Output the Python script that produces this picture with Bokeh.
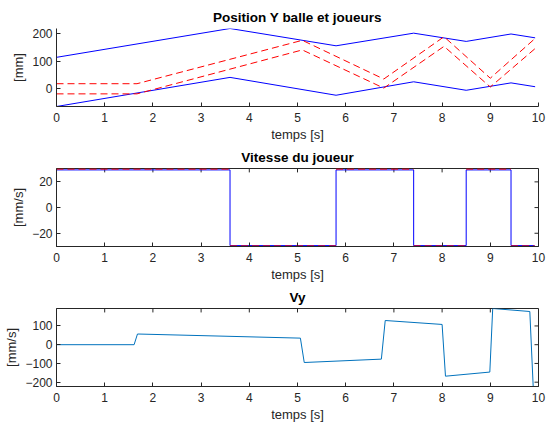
from bokeh.plotting import figure
from bokeh.layouts import column
from bokeh.models import Range1d, FixedTicker
from bokeh.embed import file_html
from bokeh.resources import INLINE

# ---- Data: Position Y balle et joueurs ----
t_joueur = [0, 3.6, 5.8, 7.41, 8.5, 9.43, 9.93]
joueur_haut = [114, 219, 156, 202, 172, 199, 185]
joueur_bas = [-65, 41, -24, 25, -6, 21, 7]
t_balle = [0, 1.67, 5.10, 6.79, 8.04, 9.0, 9.95]
balle_haut = [18, 18, 176, 35, 189, 38, 186]
balle_bas = [-19, -19, 141, 2, 154, 6, 149]

# ---- Data: Vitesse du joueur (step changes) ----
t_changements = [0, 3.6, 5.8, 7.41, 8.5, 9.43, 9.92]
vit_joueur = [29.3, -29.6, 29.3, -29.6, 29.3, -29.6]
vit_consigne = [30, -30, 30, -30, 30, -30]

# ---- Data: Vy ----
t_vy = [0, 1.61, 1.68, 5.06, 5.14, 6.74, 6.82, 8.0, 8.07, 8.99, 9.05, 9.82, 9.89]
vy = [0, 0, 57, 35, -95, -77, 129, 108, -168, -146, 193, 177, -223]

x_ticks = list(range(0, 11))
y_ticks_pos = [0, 100, 200]
y_ticks_vit = [-20, 0, 20]
y_ticks_vy = [-200, -100, 0, 100]

AX = "#262626"
FONT = "Liberation Sans"
FRAME_W = 482
TICK = 4


def steps(times, vals, start=None):
    xs, ys = [], []
    if start is not None:
        xs.append(times[0]); ys.append(start)
    for i, v in enumerate(vals):
        xs += [times[i], times[i + 1]]
        ys += [v, v]
    return xs, ys


def style_axis(ax, ticks):
    ax.ticker = FixedTicker(ticks=ticks)
    ax.axis_line_color = AX
    ax.major_tick_line_color = AX
    ax.major_tick_in = TICK
    ax.major_tick_out = 0
    ax.minor_tick_line_color = None
    ax.major_label_text_color = AX
    ax.major_label_text_font = FONT
    ax.major_label_text_font_size = "12px"
    ax.axis_label_text_font = FONT
    ax.axis_label_text_font_style = "normal"
    ax.axis_label_text_color = AX
    ax.axis_label_text_font_size = "13px"


def make_fig(title, ylabel, yr, yticks, top, frame_h, bottom, boxed):
    p = figure(width=548, height=top + frame_h + bottom,
               x_range=Range1d(0, 10), y_range=Range1d(*yr),
               output_backend="svg", toolbar_location=None,
               min_border_left=56, min_border_right=10,
               min_border_top=top, min_border_bottom=bottom, title=title)
    p.title.text_font = FONT
    p.title.text_font_size = "13.5px"
    p.title.text_font_style = "bold"
    p.title.text_color = "#000000"
    p.title.align = "center"
    p.title.standoff = 7
    p.xgrid.visible = False
    p.ygrid.visible = False
    p.background_fill_color = "white"
    p.border_fill_color = "white"
    style_axis(p.xaxis[0], x_ticks)
    style_axis(p.yaxis[0], yticks)
    p.xaxis[0].major_label_standoff = 6
    p.xaxis[0].axis_label_standoff = 2
    p.yaxis[0].major_label_standoff = 4
    p.yaxis[0].axis_label_standoff = 3
    p.xaxis[0].axis_label = "temps [s]"
    p.yaxis[0].axis_label = ylabel
    if boxed:
        p.outline_line_color = AX
        # pixel-based ranges for the inward ticks on the top and right edges
        p.extra_y_ranges = {"px_y": Range1d(0, frame_h)}
        p.extra_x_ranges = {"px_x": Range1d(0, FRAME_W)}
        p.segment(x0=x_ticks, x1=x_ticks,
                  y0=[frame_h - TICK] * len(x_ticks), y1=[frame_h] * len(x_ticks),
                  y_range_name="px_y", line_color=AX, line_width=1)
        p.segment(x0=[FRAME_W - TICK] * len(yticks), x1=[FRAME_W] * len(yticks),
                  y0=yticks, y1=yticks,
                  x_range_name="px_x", line_color=AX, line_width=1)
    else:
        p.outline_line_color = None
    return p


p1 = make_fig("Position Y balle et joueurs", "[mm]", (-65, 219), y_ticks_pos, 28, 79, 37, False)
p1.line(t_joueur, joueur_haut, line_color="#0000FF", line_width=1)
p1.line(t_joueur, joueur_bas, line_color="#0000FF", line_width=1)
p1.line(t_balle, balle_haut, line_color="#FF0000", line_width=1, line_dash="7 4")
p1.line(t_balle, balle_bas, line_color="#FF0000", line_width=1, line_dash="7 4")

p2 = make_fig("Vitesse du joueur", "[mm/s]", (-30.3, 30.4), y_ticks_vit, 23, 80, 37, True)
xb, yb = steps(t_changements, vit_joueur, start=0)
p2.line(xb, yb, line_color="#0000FF", line_width=1)
p2.segment(x0=t_changements[:-1], x1=t_changements[1:], y0=vit_consigne, y1=vit_consigne,
           line_color="#FF0000", line_width=1.5, line_dash="7 4", line_alpha=0.8)

p3 = make_fig("Vy", "[mm/s]", (-223, 193), y_ticks_vy, 23, 79, 40, True)
p3.line(t_vy, vy, line_color="#0072BD", line_width=1)

layout = column(p1, p2, p3, spacing=0)
open("out.html", "w").write(file_html(layout, INLINE))
